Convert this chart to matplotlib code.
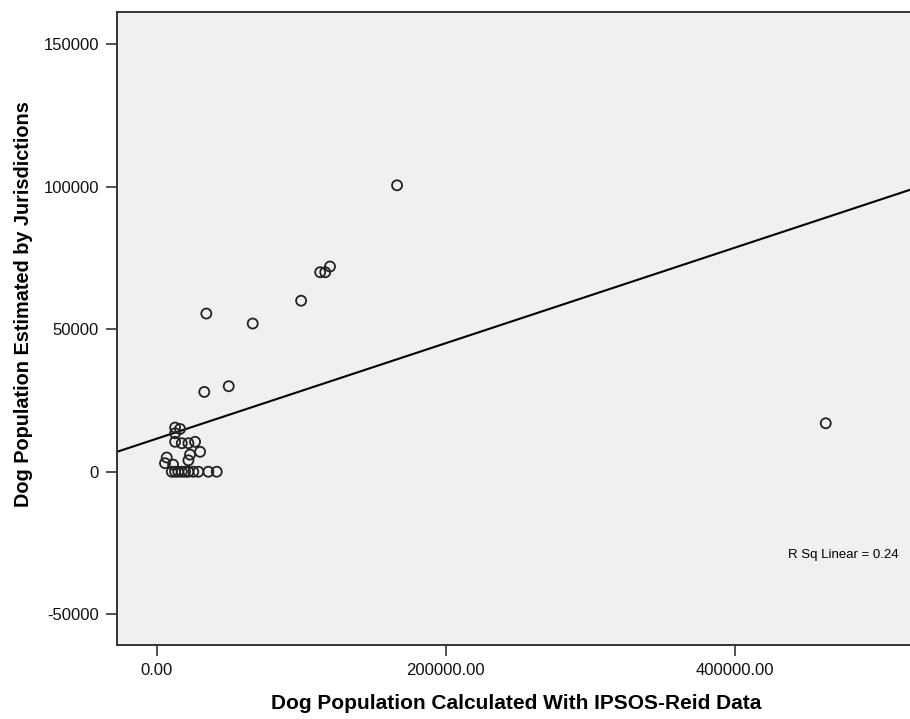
import numpy as np
import matplotlib.pyplot as plt

# values
ipsos_calc = [166300, 119900, 113100, 116600, 99900, 34300, 66400, 32900, 49800,
              12700, 16100, 12700, 12700, 17300, 21900, 26500, 30000, 21900, 23000,
              6900, 5700, 11300,
              10400, 12700, 14900, 17300, 19600, 21900, 25300, 28800, 35700, 41500,
              463000]
juris_est = [100500, 72000, 70000, 70000, 60000, 55500, 52000, 28000, 30000,
             15500, 15000, 13500, 10500, 10000, 10000, 10500, 7000, 4000, 6000,
             5000, 3000, 2500,
             0, 0, 0, 0, 0, 0, 0, 0, 0, 0,
             17000]
# fit line and R squared as printed on the reference
fit_intercept = 11600
fit_slope = 0.1675
r_sq = 0.24
x_ticks = [0, 200000, 400000]
y_ticks = [-50000, 0, 50000, 100000, 150000]

plt.rcParams['font.family'] = ['Liberation Sans', 'DejaVu Sans']

fig = plt.figure(figsize=(9.1, 7.19), dpi=100)
ax = fig.add_axes([0.1286, 0.1029, 0.8714, 0.8804])
ax.set_facecolor('#f0f0f0')

ax.scatter(ipsos_calc, juris_est, s=52, facecolors='none', edgecolors='#222222',
           linewidths=1.3, zorder=3)

ax.set_xlim(-27500, 521300)
ax.set_ylim(-60800, 161300)
ax.axline((0, fit_intercept), slope=fit_slope, color='black', lw=1.5, zorder=2)

ax.set_xticks(x_ticks)
ax.set_xticklabels(['%.2f' % v for v in x_ticks])
ax.set_yticks(y_ticks)
ax.set_yticklabels([str(v) for v in y_ticks])
ax.tick_params(labelsize=12, length=7.7, width=1.2, color='#333333', pad=5.3,
               labelcolor='#111111')

for s in ['left', 'bottom', 'top']:
    ax.spines[s].set_linewidth(1.4)
    ax.spines[s].set_color('#333333')
ax.spines['right'].set_visible(False)

ax.set_xlabel('Dog Population Calculated With IPSOS-Reid Data', fontsize=15,
              fontweight='bold')
ax.set_ylabel('Dog Population Estimated by Jurisdictions', fontsize=14.3,
              fontweight='bold')
ax.xaxis.set_label_coords(0.503, -0.078)
ax.yaxis.set_label_coords(-0.106, 0.539)

ax.text(0.846, 0.142, 'R Sq Linear = %.2f' % r_sq, transform=ax.transAxes,
        fontsize=9.5, va='center')

fig.savefig('out.png', dpi=100)
